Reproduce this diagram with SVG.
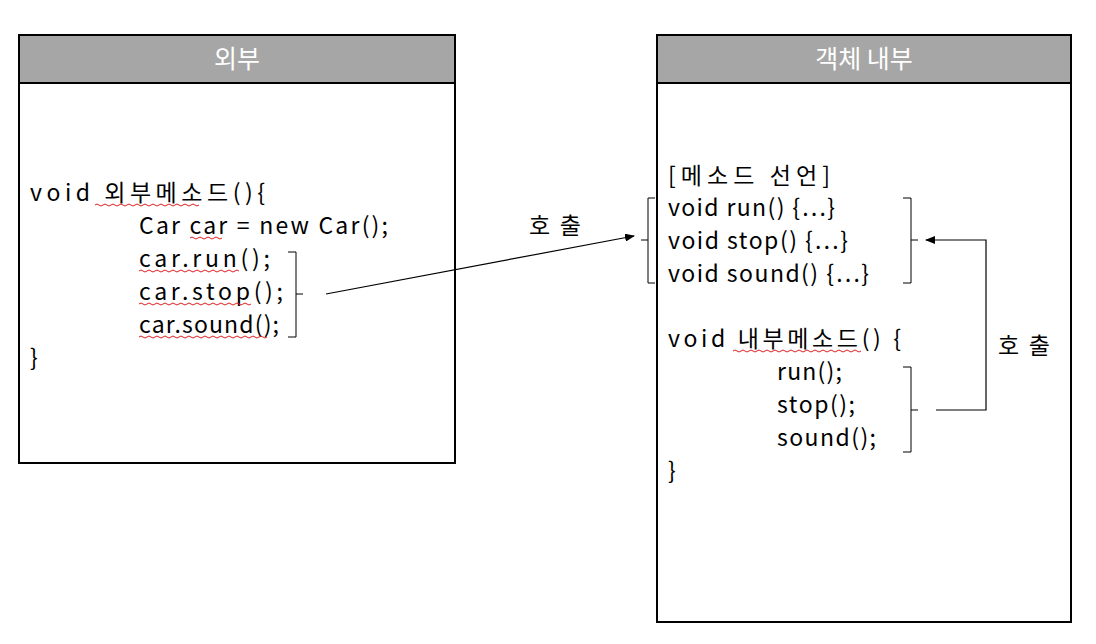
<svg xmlns="http://www.w3.org/2000/svg" width="1096" height="644" viewBox="0 0 1096 644">
<style>
.box{fill:#fff;stroke:#000;stroke-width:2}
.hdr{fill:#a6a6a6;stroke:#000;stroke-width:2}
.ht{font-family:"Noto Sans CJK KR","Noto Sans",sans-serif;font-size:25px;fill:#fff;text-anchor:middle}
.t{font-family:"Noto Sans CJK KR","Noto Sans",sans-serif;font-size:23px;fill:#000}
.br{fill:none;stroke:#000;stroke-width:1}
.sq{fill:none;stroke:#e02020;stroke-width:1}
.ln{fill:none;stroke:#000;stroke-width:1.2}
</style>
<defs><marker id="ah" markerWidth="10" markerHeight="8" refX="9" refY="4" orient="auto" markerUnits="userSpaceOnUse"><path d="M0,0 L10,4 L0,8z" fill="#000"/></marker></defs>
<g id="outer">
<rect class="box" x="19" y="35" width="436" height="428"/>
<rect class="hdr" x="19" y="35" width="436" height="48"/>
<text class="ht" x="237" y="68">외부</text>
<text class="t" x="30" y="201" textLength="235" lengthAdjust="spacing">void 외부메소드(){</text>
<text class="t" x="139" y="234" textLength="249" lengthAdjust="spacing">Car car = new Car();</text>
<text class="t" x="139" y="267" textLength="131" lengthAdjust="spacing">car.run();</text>
<text class="t" x="139" y="300" textLength="144" lengthAdjust="spacing">car.stop();</text>
<text class="t" x="139" y="333" textLength="140" lengthAdjust="spacing">car.sound();</text>
<text class="t" x="30" y="366">}</text>
<path class="br" d="M288,252 H296 V337 H288 M296,294 H303"/>
<path class="sq" d="M95,205 q2,-2 4,0 t4,0 t4,0 t4,0 t4,0 t4,0 t4,0 t4,0 t4,0 t4,0 t4,0 t4,0 t4,0 t4,0 t4,0 t4,0 t4,0 t4,0 t4,0 t4,0 t4,0 t4,0 t4,0 t4,0 t4,0 t4,0"/>
<path class="sq" d="M190,238 q2,-2 4,0 t4,0 t4,0 t4,0 t4,0 t4,0 t4,0 t4,0"/>
<path class="sq" d="M139,271 q2,-2 4,0 t4,0 t4,0 t4,0 t4,0 t4,0 t4,0 t4,0 t4,0 t4,0 t4,0 t4,0 t4,0 t4,0 t4,0 t4,0 t4,0 t4,0 t4,0 t4,0 t4,0 t4,0 t4,0 t4,0 t4,0"/>
<path class="sq" d="M139,304 q2,-2 4,0 t4,0 t4,0 t4,0 t4,0 t4,0 t4,0 t4,0 t4,0 t4,0 t4,0 t4,0 t4,0 t4,0 t4,0 t4,0 t4,0 t4,0 t4,0 t4,0 t4,0 t4,0 t4,0 t4,0 t4,0 t4,0 t4,0 t4,0"/>
<path class="sq" d="M139,337 q2,-2 4,0 t4,0 t4,0 t4,0 t4,0 t4,0 t4,0 t4,0 t4,0 t4,0 t4,0 t4,0 t4,0 t4,0 t4,0 t4,0 t4,0 t4,0 t4,0 t4,0 t4,0 t4,0 t4,0 t4,0 t4,0 t4,0 t4,0 t4,0 t4,0 t4,0 t4,0 t4,0"/>
</g>
<g id="inner">
<rect class="box" x="657" y="35" width="414" height="587"/>
<rect class="hdr" x="657" y="35" width="414" height="48"/>
<text class="ht" x="864" y="68">객체 내부</text>
<text class="t" x="668" y="184" textLength="162" lengthAdjust="spacing">[메소드 선언]</text>
<text class="t" x="668" y="216" textLength="167" lengthAdjust="spacing">void run() {…}</text>
<text class="t" x="668" y="249" textLength="180" lengthAdjust="spacing">void stop() {…}</text>
<text class="t" x="668" y="282" textLength="201" lengthAdjust="spacing">void sound() {…}</text>
<text class="t" x="668" y="347" textLength="233" lengthAdjust="spacing">void 내부메소드() {</text>
<text class="t" x="777" y="380" textLength="65" lengthAdjust="spacing">run();</text>
<text class="t" x="777" y="413" textLength="78" lengthAdjust="spacing">stop();</text>
<text class="t" x="777" y="446" textLength="99" lengthAdjust="spacing">sound();</text>
<text class="t" x="668" y="479">}</text>
<path class="br" d="M655,198 H648 V283 H655 M648,240 H641"/>
<path class="br" d="M903,198 H911 V283 H903 M911,240 H918"/>
<path class="br" d="M903,367 H911 V452 H903 M911,410 H918"/>
<path class="sq" d="M733,351 q2,-2 4,0 t4,0 t4,0 t4,0 t4,0 t4,0 t4,0 t4,0 t4,0 t4,0 t4,0 t4,0 t4,0 t4,0 t4,0 t4,0 t4,0 t4,0 t4,0 t4,0 t4,0 t4,0 t4,0 t4,0 t4,0 t4,0 t4,0 t4,0 t4,0 t4,0 t4,0 t4,0"/>
</g>
<g id="connectors">
<path class="ln" d="M326,294 L634,236" marker-end="url(#ah)"/>
<text class="t" x="529" y="234" textLength="52" lengthAdjust="spacing">호출</text>
<path class="ln" d="M936,410 H986 V240 H926" marker-end="url(#ah)"/>
<text class="t" x="998" y="354" textLength="52" lengthAdjust="spacing">호출</text>
</g>
</svg>
